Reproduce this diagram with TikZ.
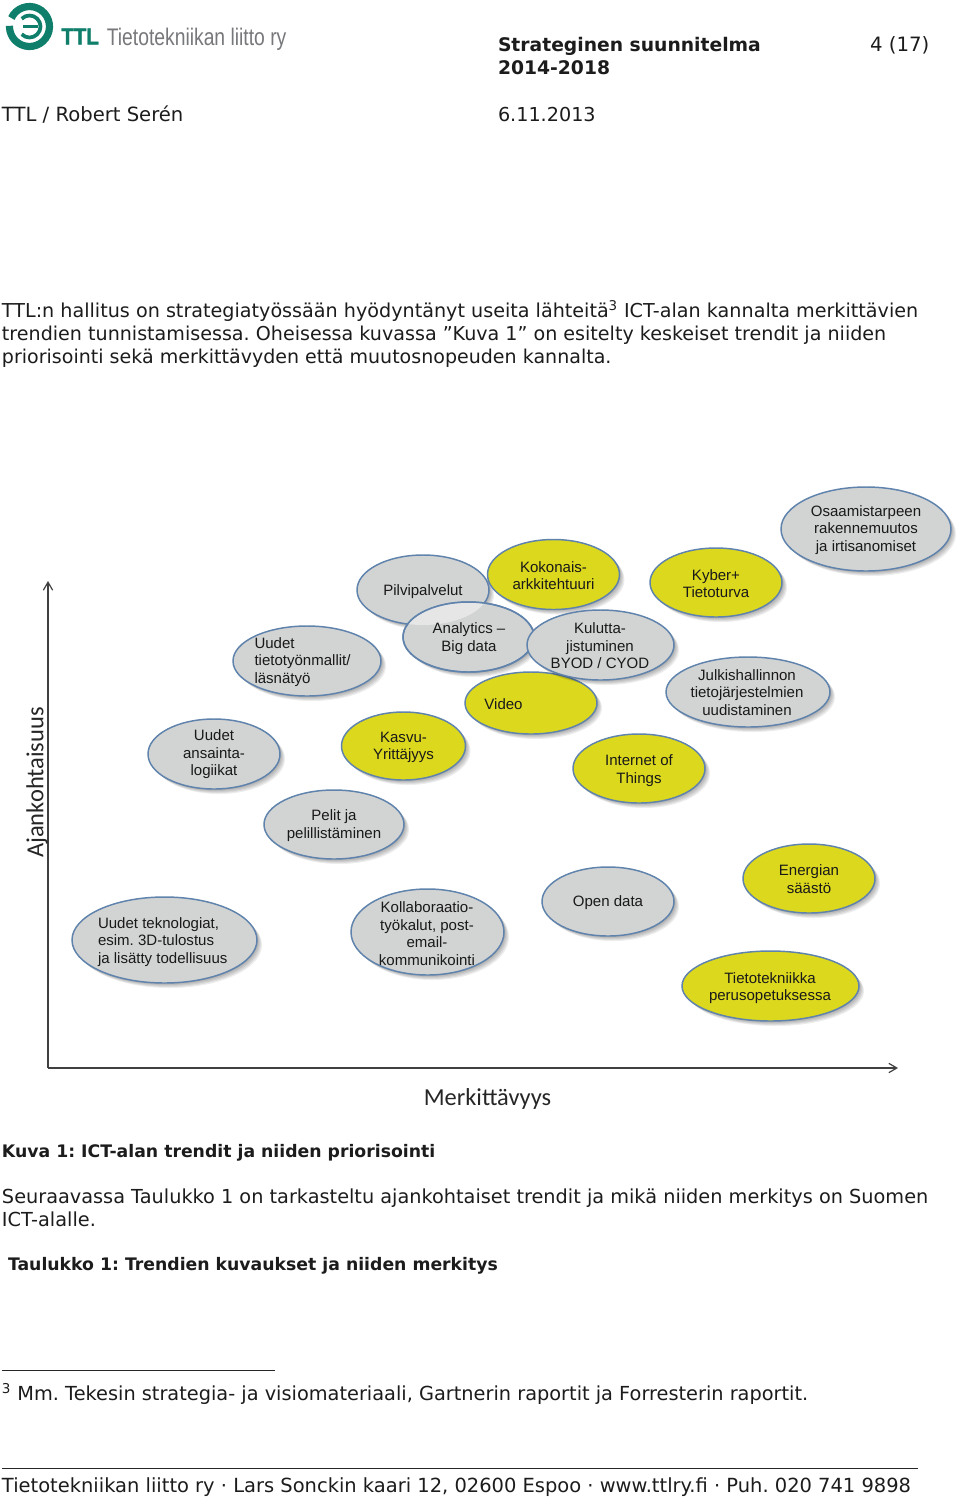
\documentclass[tikz,border=0pt]{standalone}
\usepackage{fontspec}
\usepackage{graphicx}
\setmainfont{DejaVu Sans}
\newfontfamily\arial{Liberation Sans}
\newfontfamily\ttlfont[FakeBold=1.5]{Liberation Sans Bold}
\newfontfamily\calib{Carlito}
\usetikzlibrary{shapes.geometric,arrows.meta}
\definecolor{bgray}{HTML}{D2D3D3}
\definecolor{byel}{HTML}{DCD81E}
\definecolor{bline}{HTML}{5F83AC}
\definecolor{ttlgreen}{HTML}{0F7F6B}
\definecolor{ttlgrey}{HTML}{77787B}
\definecolor{inktext}{HTML}{1C1C1C}
\frenchspacing
\tikzset{
  x=0.75pt,y=-0.75pt,
  bodytext/.style={anchor=base west,inner sep=0,outer sep=0,text=inktext,font=\fontsize{#1pt}{17pt}\selectfont},
  bodytext/.default=14.4,
  boldtext/.style={anchor=base west,inner sep=0,outer sep=0,text=inktext,font=\fontsize{#1pt}{17pt}\selectfont\bfseries},
  boldtext/.default=14.05,
  bubtext/.style={inner sep=0,outer sep=0,yshift=-0.75pt,text=black!90,font=\arial\fontsize{11.27pt}{13.1pt}\selectfont},
  bubble/.style={ellipse,draw=bline,line width=1.1pt,inner sep=0,outer sep=0},
  shade1/.style={ellipse,fill=black,opacity=0.07,draw=none,inner sep=0},
  axisline/.style={draw=black!75,line width=0.9pt,-{Straight Barb[length=6pt,width=7pt]}},
}
% \bub{name}{cx}{cy}{rx}{ry}{fill}
\newcommand{\bub}[6]{%
  \foreach \o in {1,2,3,4,5}{\node[shade1,minimum width=1.5*#4 pt,minimum height=1.5*#5 pt] at (#2+\o,#3+\o) {};}
  \node[bubble,fill=#6,minimum width=1.5*#4 pt,minimum height=1.5*#5 pt] (#1) at (#2,#3) {};
}
\begin{document}
\begin{tikzpicture}
\useasboundingbox (0,0) rectangle (960,1497);
\fill[white] (0,0) rectangle (960,1497);
% logo
\coordinate (lc) at (29.5,26.5);
\draw[ttlgreen,line width=5.4pt] ([shift={(205:20)}]lc) arc[start angle=205,end angle=542,radius=20];
\draw[ttlgreen,line width=2.8pt] ([shift={(-135:11)}]lc) arc[start angle=-135,end angle=135,radius=11];
\draw[ttlgreen,line width=2.6pt] (23,26.5) -- (38,26.5);
\node[anchor=base west,inner sep=0,text=ttlgreen,font=\ttlfont\fontsize{17.5pt}{18pt}\selectfont] (ttl) at (61,44.5) {\scalebox{0.88}[1]{TTL}};
\node[anchor=base west,inner sep=0,text=ttlgrey,font=\arial\fontsize{18pt}{18pt}\selectfont] (org) at (106.5,45) {\scalebox{0.805}[1]{Tietotekniikan liitto ry}};
% header
\node[boldtext] (h1) at (498,51.5) {Strateginen suunnitelma};
\node[boldtext] (h2) at (498,74.5) {2014-2018};
\node[bodytext=14.8] (h3) at (870,51.5) {4 (17)};
\node[bodytext=14.7] (h4) at (2,121.5) {TTL / Robert Serén};
\node[bodytext] (h5) at (498,121.5) {6.11.2013};
% body
\node[bodytext=14.37] (b1) at (2,317.5) {TTL:n hallitus on strategiatyössään hyödyntänyt useita lähteitä\textsuperscript{3} ICT-alan kannalta merkittävien};
\node[bodytext=14.33] (b2) at (2,340.5) {trendien tunnistamisessa. Oheisessa kuvassa ”Kuva 1” on esitelty keskeiset trendit ja niiden};
\node[bodytext=14.28] (b3) at (2,363.5) {priorisointi sekä merkittävyden että muutosnopeuden kannalta.};
% axes
\coordinate (origin) at (48,1068);
\coordinate (yend) at (48,581);
\coordinate (xend) at (898,1068);
\draw[axisline] (origin) -- (yend);
\draw[axisline] (origin) -- (xend);
\node[rotate=90,inner sep=0,text=black!85,font=\calib\fontsize{18.4pt}{20pt}\selectfont] (ya) at (37,782.5) {Ajankohtaisuus};
\node[inner sep=0,text=black!85,font=\calib\fontsize{18.3pt}{20pt}\selectfont] (xa) at (487.5,1098.5) {Merkittävyys};
% bubbles
\bub{osa}{866}{529}{85}{42}{bgray}
\bub{pil}{423}{590}{66}{35}{bgray}
\bub{kok}{553.5}{574.5}{66}{35}{byel}
\bub{kyb}{716}{582.5}{66}{34.5}{byel}
\bub{vid}{531}{703}{66}{31}{byel}
\bub{ana}{468.5}{637}{65.5}{35}{bgray}
\begin{scope}
 \clip (423,590) ellipse [x radius=66,y radius=35];
 \fill[white,opacity=0.45] (468.5,637) ellipse [x radius=65,y radius=34.5];
\end{scope}
\draw[bline,line width=1.1pt] (468.5,637) ellipse [x radius=65.5,y radius=35];
\bub{kul}{600.5}{645}{73.5}{35}{bgray}
\bub{jul}{748}{692}{82}{35}{bgray}
\bub{tyo}{307}{661}{74}{35}{bgray}
\bub{ans}{214}{754}{66}{35}{bgray}
\bub{kas}{403.5}{746}{62}{34}{byel}
\bub{int}{639}{768.5}{66}{34.5}{byel}
\bub{pel}{334}{824.5}{70}{34.5}{bgray}
\bub{ene}{809}{878.5}{66}{34.5}{byel}
\bub{ope}{608}{901.5}{66}{34.5}{bgray}
\bub{tek}{164.5}{940}{92.5}{43}{bgray}
\bub{kol}{427.5}{932}{76.5}{43}{bgray}
\bub{tie}{770.5}{986}{88.5}{35}{byel}
% bubble texts
\node[bubtext,align=center] (tosa) at (866,529) {Osaamistarpeen\\rakennemuutos\\ja irtisanomiset};
\node[bubtext,align=center] (tpil) at (423,591) {Pilvipalvelut};
\node[bubtext,align=center] (tkok) at (553.5,574.5) {Kokonais-\\arkkitehtuuri};
\node[bubtext,align=center] (tkyb) at (716,582.5) {Kyber+\\Tietoturva};
\node[bubtext] (tvid) at (503.5,703.5) {Video};
\node[bubtext,align=center] (tana) at (469,637.5) {Analytics –\\Big data};
\node[bubtext,align=center] (tkul) at (600,645) {Kulutta-\\jistuminen\\BYOD / CYOD};
\node[bubtext,align=center] (tjul) at (747,691.5) {Julkishallinnon\\tietojärjestelmien\\uudistaminen};
\node[bubtext,align=left,anchor=west] (ttyo) at (254.5,661) {Uudet\\tietotyönmallit/\\läsnätyö};
\node[bubtext,align=center] (tans) at (214,753.5) {Uudet\\ansainta-\\logiikat};
\node[bubtext,align=center] (tkas) at (403.5,746.5) {Kasvu-\\Yrittäjyys};
\node[bubtext,align=center] (tint) at (639,769.5) {Internet of\\Things};
\node[bubtext,align=center] (tpel) at (334,824.5) {Pelit ja\\pelillistäminen};
\node[bubtext,align=center] (tene) at (809,878) {Energian\\säästö};
\node[bubtext,align=center] (tope) at (608,902) {Open data};
\node[bubtext,align=left,anchor=west] (ttek) at (98,941) {Uudet teknologiat,\\esim. 3D-tulostus\\ja lisätty todellisuus};
\node[bubtext,align=center] (tkol) at (427,932.5) {Kollaboraatio-\\työkalut, post-\\email-\\kommunikointi};
\node[bubtext,align=center] (ttie) at (770,987) {Tietotekniikka\\perusopetuksessa};
% captions
\node[boldtext=12.95] (c1) at (2,1157.5) {Kuva 1: ICT-alan trendit ja niiden priorisointi};
\node[bodytext=14.47] (c2) at (2,1203) {Seuraavassa Taulukko 1 on tarkasteltu ajankohtaiset trendit ja mikä niiden merkitys on Suomen};
\node[bodytext=14.47] (c3) at (2,1226) {ICT-alalle.};
\node[boldtext=12.95] (c4) at (8,1270.5) {Taulukko 1: Trendien kuvaukset ja niiden merkitys};
% footnote
\coordinate (fa) at (2,1370.5); \coordinate (fb) at (275,1370.5);
\draw[black!85,line width=0.8pt] (fa) -- (fb);
\node[bodytext=14.5] (f1) at (2,1400) {\textsuperscript{3} Mm. Tekesin strategia- ja visiomateriaali, Gartnerin raportit ja Forresterin raportit.};
\coordinate (ga) at (2,1468.5); \coordinate (gb) at (918,1468.5);
\draw[black!85,line width=0.8pt] (ga) -- (gb);
\node[bodytext=14.6] (f2) at (2,1492.5) {Tietotekniikan liitto ry · Lars Sonckin kaari 12, 02600 Espoo · www.ttlry.fi · Puh. 020 741 9898};
\end{tikzpicture}
\end{document}
